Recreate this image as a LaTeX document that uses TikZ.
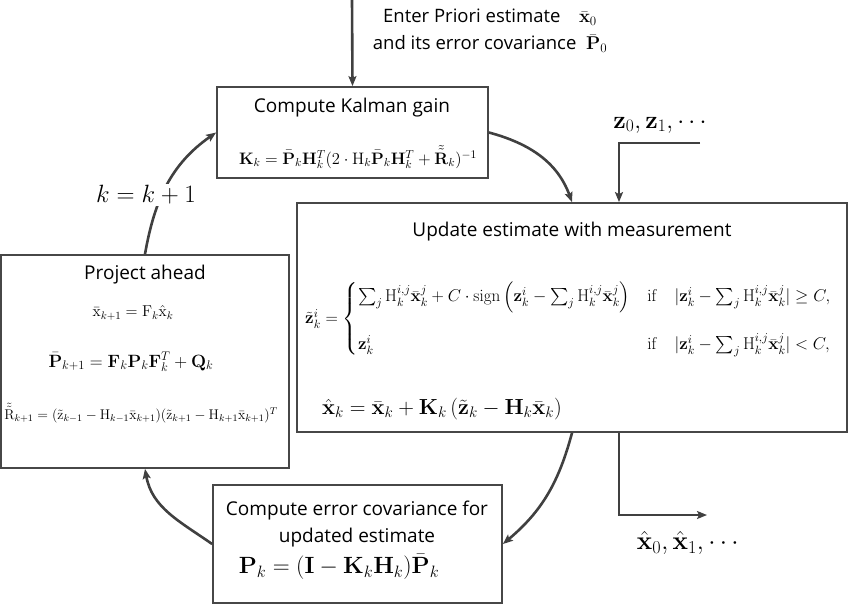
\RequirePackage{fix-cm}
\documentclass[tikz,border=0pt]{standalone}
\usepackage{amsmath}
\usepackage[no-math]{fontspec}
\setmainfont{Open Sans}
\usepackage{xcolor}
\usetikzlibrary{arrows.meta}

\definecolor{boxgray}{HTML}{474747}
\definecolor{linegray}{HTML}{404040}

\tikzset{
  stagebox/.style={draw=boxgray, line width=1.8pt, fill=white, inner sep=0pt},
  stagetitle/.style={inner sep=0pt, font=\fontsize{19}{27}\selectfont},
  flowline/.style={draw=linegray, line width=2.6pt, -{Stealth[length=10pt,width=8pt,inset=2pt]}},
}

\begin{document}
\begin{tikzpicture}[x=1pt, y=1pt]
  % page frame, pixels of the reference
  \useasboundingbox (0,0) rectangle (850,-605);

  % the four stages
  \node[stagebox, minimum width=271pt, minimum height=91pt] (gain) at (352.5,-132.5) {};
  \node[stagebox, minimum width=550pt, minimum height=229pt] (upd) at (572,-317.5) {};
  \node[stagebox, minimum width=288pt, minimum height=213pt] (prj) at (145,-361.5) {};
  \node[stagebox, minimum width=289pt, minimum height=118pt] (err) at (357.5,-544) {};

  % Kalman gain
  \node[stagetitle] (gaintitle) at (352,-108) {Compute Kalman gain};
  \node[inner sep=0pt, font=\fontsize{16.6}{20}\selectfont] (gaineq) at (358,-157)
    {$\mathbf{K}_k=\bar{\mathbf{P}}_k\mathbf{H}_k^T(2\cdot\mathrm{H}_k\bar{\mathbf{P}}_k\mathbf{H}_k^T+\tilde{\tilde{\mathbf{R}}}_k)^{-1}$};

  % update
  \node[stagetitle] (updtitle) at (572,-232) {Update estimate with measurement};
  \node[inner sep=0pt, anchor=west, font=\fontsize{17.1}{20}\selectfont] (updcases) at (305,-319)
    {$\tilde{\mathbf{z}}^i_k=\begin{cases}
      \sum_j\mathrm{H}^{i,j}_k\bar{\mathbf{x}}^j_k+C\cdot\mathrm{sign}\left(\mathbf{z}^i_k-\sum_j\mathrm{H}^{i,j}_k\bar{\mathbf{x}}^j_k\right) & \mathrm{if}\quad|\mathbf{z}^i_k-\sum_j\mathrm{H}^{i,j}_k\bar{\mathbf{x}}^j_k|\ge C,\\[24pt]
      \mathbf{z}^i_k & \mathrm{if}\quad|\mathbf{z}^i_k-\sum_j\mathrm{H}^{i,j}_k\bar{\mathbf{x}}^j_k|<C,
    \end{cases}$};
  \node[inner sep=0pt, anchor=west, font=\fontsize{21.8}{26}\selectfont] (updeq) at (322,-409)
    {$\hat{\mathbf{x}}_k=\bar{\mathbf{x}}_k+\mathbf{K}_k\left(\tilde{\mathbf{z}}_k-\mathbf{H}_k\bar{\mathbf{x}}_k\right)$};

  % project ahead
  \node[stagetitle] (prjtitle) at (145,-275) {Project ahead};
  \node[inner sep=0pt, font=\fontsize{15.7}{19}\selectfont] (prjx) at (133,-313)
    {$\bar{\mathrm{x}}_{k+1}=\mathrm{F}_k\hat{\mathrm{x}}_k$};
  \node[inner sep=0pt, font=\fontsize{17.8}{21}\selectfont] (prjp) at (131,-362)
    {$\bar{\mathbf{P}}_{k+1}=\mathbf{F}_k\mathbf{P}_k\mathbf{F}_k^T+\mathbf{Q}_k$};
  \node[inner sep=0pt, font=\fontsize{14.1}{17}\selectfont] (prjr) at (141,-413)
    {$\tilde{\tilde{\mathrm{R}}}_{k+1}=(\tilde{\mathrm{z}}_{k-1}-\mathrm{H}_{k-1}\bar{\mathrm{x}}_{k+1})(\tilde{\mathrm{z}}_{k+1}-\mathrm{H}_{k+1}\bar{\mathrm{x}}_{k+1})^T$};

  % error covariance
  \node[stagetitle, align=center] (errtitle) at (357,-524) {Compute error covariance for\\updated estimate};
  \node[inner sep=0pt, font=\fontsize{23.5}{28}\selectfont] (erreq) at (339,-567)
    {$\mathbf{P}_k=(\mathbf{I}-\mathbf{K}_k\mathbf{H}_k)\bar{\mathbf{P}}_k$};

  % inputs and outputs
  \node[inner sep=0pt, align=center, font=\fontsize{18.5}{27}\selectfont] (prior) at (490,-31)
    {Enter Priori estimate\quad $\bar{\mathbf{x}}_0$\\and its error covariance\ \ $\bar{\mathbf{P}}_0$};
  \coordinate (entry) at (352,0);
  \draw[flowline] (entry) -- (gain.north);

  \node[inner sep=0pt, font=\fontsize{25}{30}\selectfont] (zlabel) at (662,-125) {$\mathbf{z}_0,\mathbf{z}_1,\cdots$};
  \coordinate (zin) at (700,-143);
  \coordinate (zturn) at (619,-143);
  \draw[flowline] (zin) -- (zturn) -- (zturn |- upd.north);

  \node[inner sep=0pt, font=\fontsize{26}{30}\selectfont] (xlabel) at (690,-543) {$\hat{\mathbf{x}}_0,\hat{\mathbf{x}}_1,\cdots$};
  \coordinate (xout) at (707,-515);
  \draw[flowline] (zturn |- upd.south) |- (xout);

  % the loop
  \draw[flowline] (gain.east) to[out=-15,in=110] (upd.north);
  \draw[flowline] (upd.south) to[out=-105,in=40] (err.east);
  \draw[flowline] (err.west) to[out=145,in=-80] (prj.south);
  \draw[flowline] (prj.north) to[out=80,in=-145] (gain.west);
  \node[fill=white, inner sep=2pt, font=\fontsize{25}{30}\selectfont] (kstep) at (146,-195) {$k=k+1$};
\end{tikzpicture}
\end{document}
